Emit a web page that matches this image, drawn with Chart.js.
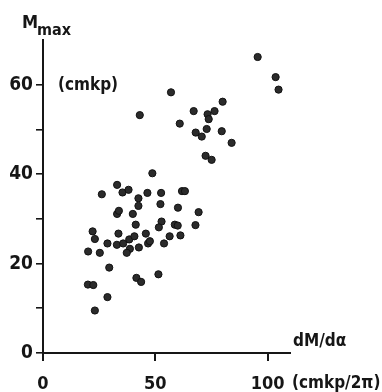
<!DOCTYPE html>
<html>
<head>
<meta charset="utf-8">
<script src="https://cdn.jsdelivr.net/npm/chart.js@4"></script>
<style>
  body { margin: 0; background: #fff; }
  canvas { display: block; }
</style>
</head>
<body>
<canvas id="myChart" width="382" height="392"></canvas>
<script>
// dM/dα (cmkp/2π) against Mmax (cmkp)
const slopeX = [
  95.6, 103.6, 104.9, 57.0, 43.1, 80.0, 67.1, 73.3, 76.4, 73.8, 60.9, 68.0,
  72.9, 70.7, 79.6, 84.0, 72.4, 75.1,
  48.7, 33.0, 26.2, 35.4, 38.1, 42.5, 42.5, 46.5, 52.6, 61.9, 63.2, 52.3,
  60.1, 33.0, 33.8, 40.0, 41.3, 52.8, 51.6, 58.7, 60.0, 69.3, 67.9,
  22.1, 23.1, 33.6, 28.7, 32.9, 35.7, 38.4, 40.7, 45.8, 38.7, 37.3, 42.7,
  46.8, 47.6, 53.9, 56.4, 61.2, 20.1, 25.3, 29.5, 20.0, 22.4, 41.6, 43.7,
  51.4, 28.7, 23.1,
];
const maxMoment = [
  66.2, 61.7, 58.9, 58.3, 53.2, 56.2, 54.1, 53.4, 54.1, 52.3, 51.3, 49.3,
  50.1, 48.4, 49.6, 47.0, 44.1, 43.2,
  40.2, 37.6, 35.5, 35.9, 36.5, 34.6, 32.9, 35.8, 35.8, 36.2, 36.2, 33.3,
  32.5, 31.1, 31.8, 31.1, 28.7, 29.4, 28.1, 28.7, 28.5, 31.5, 28.6,
  27.2, 25.5, 26.7, 24.5, 24.2, 24.5, 25.4, 26.1, 26.7, 23.3, 22.4, 23.6,
  24.5, 25.0, 24.5, 26.1, 26.3, 22.7, 22.4, 19.1, 15.3, 15.2, 16.8, 15.9,
  17.6, 12.5, 9.5,
];
const xTickValues = [0, 50, 100];
const yTickValues = [0, 10, 20, 30, 40, 50, 60];
const yLabelled = [0, 20, 40, 60];

const FONT = "'DejaVu Sans Condensed', 'DejaVu Sans', sans-serif";
const INK = "#161616";

const points = slopeX.map((x, i) => ({ x: x, y: maxMoment[i] }));

// extra labels that sit beside the axes
const axisText = {
  id: "axisText",
  afterDraw(chart) {
    const ctx = chart.ctx;
    const ys = chart.scales.y;
    ctx.save();
    ctx.fillStyle = INK;
    ctx.textBaseline = "alphabetic";
    ctx.textAlign = "left";
    ctx.font = "bold 18px " + FONT;
    ctx.fillText("M", 22, 28);
    ctx.font = "bold 16px " + FONT;
    ctx.fillText("max", 37, 35);
    ctx.font = "bold 17px " + FONT;
    ctx.textBaseline = "middle";
    ctx.fillText("(cmkp)", 58, ys.getPixelForValue(60) + 1);
    ctx.textBaseline = "alphabetic";
    ctx.fillText("dM/d\u03b1", 293, 346);
    ctx.textBaseline = "middle";
    ctx.fillText("(cmkp/2\u03c0)", 292, 384);
    ctx.restore();
  },
};

const config = {
  type: "scatter",
  data: {
    datasets: [
      {
        data: points,
        backgroundColor: "#2b2b2b",
        borderColor: "#111",
        borderWidth: 1,
        pointRadius: 3.6,
      },
    ],
  },
  options: {
    responsive: false,
    animation: false,
    layout: { padding: { top: 40, right: 92, left: 0, bottom: 0 } },
    plugins: {
      legend: { display: false },
      tooltip: { enabled: false },
    },
    scales: {
      x: {
        type: "linear",
        min: 0,
        max: 110,
        afterBuildTicks: (s) => {
          s.ticks = xTickValues.map((v) => ({ value: v }));
        },
        afterFit: (s) => {
          s.height = 39;
        },
        border: { color: INK, width: 2 },
        grid: {
          drawOnChartArea: false,
          drawTicks: true,
          tickLength: 8,
          color: INK,
          lineWidth: 2,
        },
        ticks: {
          color: INK,
          padding: 13,
          maxRotation: 0,
          font: { family: FONT, size: 18, weight: "bold" },
        },
      },
      y: {
        type: "linear",
        min: 0,
        max: 70,
        afterBuildTicks: (s) => {
          s.ticks = yTickValues.map((v) => ({ value: v }));
        },
        afterFit: (s) => {
          s.width = 43;
        },
        border: { color: INK, width: 2 },
        grid: {
          drawOnChartArea: false,
          drawTicks: true,
          tickLength: 7,
          color: INK,
          lineWidth: 1.6,
        },
        ticks: {
          color: INK,
          padding: 3,
          font: { family: FONT, size: 19, weight: "bold" },
          callback: (v) => (yLabelled.includes(v) ? String(v) : ""),
        },
      },
    },
  },
  plugins: [axisText],
};

var myChart = new Chart(document.getElementById("myChart"), config);
</script>
</body>
</html>
